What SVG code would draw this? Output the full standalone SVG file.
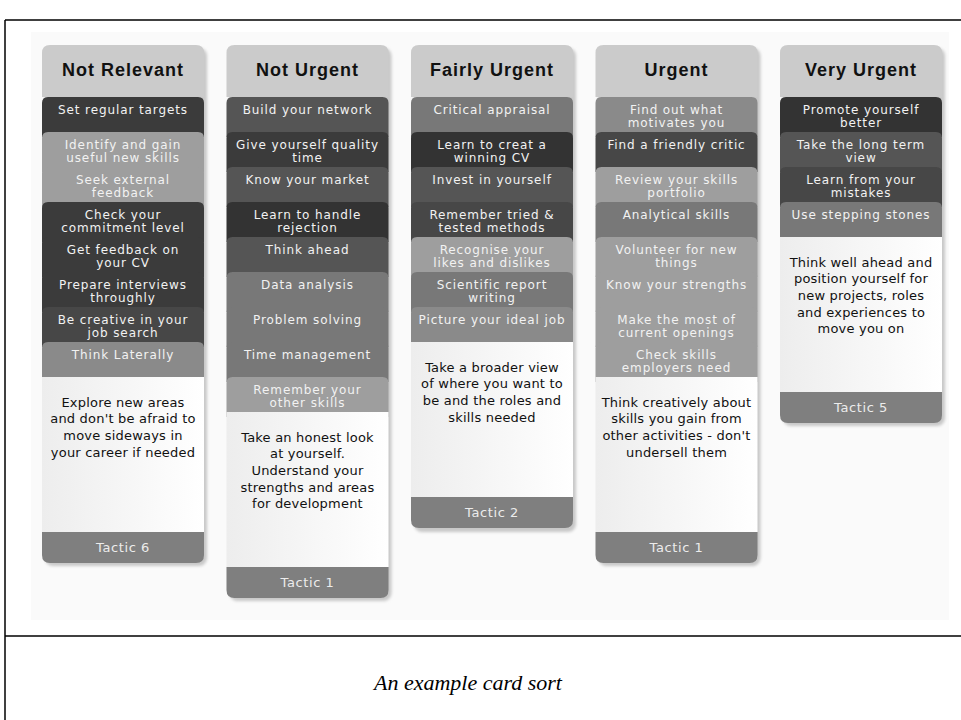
<svg xmlns="http://www.w3.org/2000/svg" xmlns:xlink="http://www.w3.org/1999/xlink" width="961" height="720" viewBox="0 0 961 720">
<style>
.hd{font-family:"Liberation Sans",Arial,sans-serif;font-weight:bold;font-size:18px;letter-spacing:1px;fill:#111;text-anchor:middle}
.ct{font-family:"DejaVu Sans",Verdana,sans-serif;font-size:12px;letter-spacing:0.9px;fill:#f2f2f2;text-anchor:middle}
.wt{font-family:"DejaVu Sans",Verdana,sans-serif;font-size:13px;letter-spacing:0.2px;fill:#111;text-anchor:middle}
.tt{font-family:"DejaVu Sans",Verdana,sans-serif;font-size:13px;letter-spacing:0.6px;fill:#ececec;text-anchor:middle}
.cap{font-family:"Liberation Serif","Times New Roman",serif;font-style:italic;font-size:22px;fill:#000;text-anchor:middle}
.c1{fill:#333}.c2{fill:#3b3b3b}.c3{fill:#474747}.c4{fill:#555}.c5{fill:#787878}.c6{fill:#8a8a8a}.c7{fill:#9e9e9e}
.hdr{fill:#cbcbcb}.tac{fill:#7f7f7f}.wh{fill:url(#wg)}
</style>
<defs>
<linearGradient id="wg" x1="0" y1="0" x2="1" y2="0">
<stop offset="0" stop-color="#ededed"/><stop offset="1" stop-color="#ffffff"/>
</linearGradient>
<filter id="sh" x="-10%" y="-10%" width="130%" height="130%">
<feGaussianBlur stdDeviation="1.5"/>
</filter>
<path id="head" d="M0,52 V8 Q0,0 8,0 H154 Q162,0 162,8 V52 Z"/>
<path id="card" d="M0,40 V6 Q0,0 6,0 H156 Q162,0 162,6 V40 Z"/>
<path id="tac" d="M0,0 H162 V23 Q162,31 154,31 H8 Q0,31 0,23 Z"/>
</defs>
<rect x="0" y="0" width="961" height="720" fill="#ffffff"/>
<rect x="31" y="32" width="918" height="588" fill="#fafafa"/>
<g id="frame" fill="none" stroke="#000" stroke-width="1.5">
<line x1="5" y1="20" x2="961" y2="20"/>
<line x1="5" y1="20" x2="5" y2="720"/>
<line x1="5" y1="636" x2="961" y2="636"/>
</g>
<text class="cap" x="468" y="690">An example card sort</text>

<!-- Column 1 -->
<g id="col-not-relevant" transform="translate(42,0)">
<rect x="3" y="48" width="162" height="518" rx="8" fill="#c8c8c8" filter="url(#sh)"/>
<use href="#head" y="45" class="hdr"/>
<text class="hd" x="81" y="76">Not Relevant</text>
<g id="c1-1"><use href="#card" y="97" class="c2"/><text class="ct" x="81" y="114">Set regular targets</text></g>
<g id="c1-2"><use href="#card" y="132" class="c7"/><text class="ct" x="81" y="149">Identify and gain</text><text class="ct" x="81" y="161.5">useful new skills</text></g>
<g id="c1-3"><use href="#card" y="167" class="c7"/><text class="ct" x="81" y="184">Seek external</text><text class="ct" x="81" y="196.5">feedback</text></g>
<g id="c1-4"><use href="#card" y="202" class="c2"/><text class="ct" x="81" y="219">Check your</text><text class="ct" x="81" y="231.5">commitment level</text></g>
<g id="c1-5"><use href="#card" y="237" class="c2"/><text class="ct" x="81" y="254">Get feedback on</text><text class="ct" x="81" y="266.5">your CV</text></g>
<g id="c1-6"><use href="#card" y="272" class="c2"/><text class="ct" x="81" y="289">Prepare interviews</text><text class="ct" x="81" y="301.5">throughly</text></g>
<g id="c1-7"><use href="#card" y="307" class="c3"/><text class="ct" x="81" y="324">Be creative in your</text><text class="ct" x="81" y="336.5">job search</text></g>
<g id="c1-8"><use href="#card" y="342" class="c6"/><text class="ct" x="81" y="359">Think Laterally</text></g>
<g id="c1-desc"><rect x="0" y="377" width="162" height="155" class="wh"/>
<text class="wt" x="81" y="406.5">Explore new areas</text>
<text class="wt" x="81" y="423.2">and don't be afraid to</text>
<text class="wt" x="81" y="439.9">move sideways in</text>
<text class="wt" x="81" y="456.6">your career if needed</text></g>
<g id="c1-tactic"><use href="#tac" y="532" class="tac"/><text class="tt" x="81" y="552">Tactic 6</text></g>
</g>

<!-- Column 2 -->
<g id="col-not-urgent" transform="translate(226.5,0)">
<rect x="3" y="48" width="162" height="553" rx="8" fill="#c8c8c8" filter="url(#sh)"/>
<use href="#head" y="45" class="hdr"/>
<text class="hd" x="81" y="76">Not Urgent</text>
<g id="c2-1"><use href="#card" y="97" class="c4"/><text class="ct" x="81" y="114">Build your network</text></g>
<g id="c2-2"><use href="#card" y="132" class="c2"/><text class="ct" x="81" y="149">Give yourself quality</text><text class="ct" x="81" y="161.5">time</text></g>
<g id="c2-3"><use href="#card" y="167" class="c4"/><text class="ct" x="81" y="184">Know your market</text></g>
<g id="c2-4"><use href="#card" y="202" class="c1"/><text class="ct" x="81" y="219">Learn to handle</text><text class="ct" x="81" y="231.5">rejection</text></g>
<g id="c2-5"><use href="#card" y="237" class="c4"/><text class="ct" x="81" y="254">Think ahead</text></g>
<g id="c2-6"><use href="#card" y="272" class="c5"/><text class="ct" x="81" y="289">Data analysis</text></g>
<g id="c2-7"><use href="#card" y="307" class="c5"/><text class="ct" x="81" y="324">Problem solving</text></g>
<g id="c2-8"><use href="#card" y="342" class="c5"/><text class="ct" x="81" y="359">Time management</text></g>
<g id="c2-9"><use href="#card" y="377" class="c7"/><text class="ct" x="81" y="394">Remember your</text><text class="ct" x="81" y="406.5">other skills</text></g>
<g id="c2-desc"><rect x="0" y="412" width="162" height="155" class="wh"/>
<text class="wt" x="81" y="441.5">Take an honest look</text>
<text class="wt" x="81" y="458.2">at yourself.</text>
<text class="wt" x="81" y="474.9">Understand your</text>
<text class="wt" x="81" y="491.6">strengths and areas</text>
<text class="wt" x="81" y="508.3">for development</text></g>
<g id="c2-tactic"><use href="#tac" y="567" class="tac"/><text class="tt" x="81" y="587">Tactic 1</text></g>
</g>

<!-- Column 3 -->
<g id="col-fairly-urgent" transform="translate(411,0)">
<rect x="3" y="48" width="162" height="484" rx="8" fill="#c8c8c8" filter="url(#sh)"/>
<use href="#head" y="45" class="hdr"/>
<text class="hd" x="81" y="76">Fairly Urgent</text>
<g id="c3-1"><use href="#card" y="97" class="c5"/><text class="ct" x="81" y="114">Critical appraisal</text></g>
<g id="c3-2"><use href="#card" y="132" class="c1"/><text class="ct" x="81" y="149">Learn to creat a</text><text class="ct" x="81" y="161.5">winning CV</text></g>
<g id="c3-3"><use href="#card" y="167" class="c4"/><text class="ct" x="81" y="184">Invest in yourself</text></g>
<g id="c3-4"><use href="#card" y="202" class="c3"/><text class="ct" x="81" y="219">Remember tried &amp;</text><text class="ct" x="81" y="231.5">tested methods</text></g>
<g id="c3-5"><use href="#card" y="237" class="c7"/><text class="ct" x="81" y="254">Recognise your</text><text class="ct" x="81" y="266.5">likes and dislikes</text></g>
<g id="c3-6"><use href="#card" y="272" class="c5"/><text class="ct" x="81" y="289">Scientific report</text><text class="ct" x="81" y="301.5">writing</text></g>
<g id="c3-7"><use href="#card" y="307" class="c6"/><text class="ct" x="81" y="324">Picture your ideal job</text></g>
<g id="c3-desc"><rect x="0" y="342" width="162" height="155" class="wh"/>
<text class="wt" x="81" y="371.5">Take a broader view</text>
<text class="wt" x="81" y="388.2">of where you want to</text>
<text class="wt" x="81" y="404.9">be and the roles and</text>
<text class="wt" x="81" y="421.6">skills needed</text></g>
<g id="c3-tactic"><use href="#tac" y="497" class="tac"/><text class="tt" x="81" y="517">Tactic 2</text></g>
</g>

<!-- Column 4 -->
<g id="col-urgent" transform="translate(595.5,0)">
<rect x="3" y="48" width="162" height="518" rx="8" fill="#c8c8c8" filter="url(#sh)"/>
<use href="#head" y="45" class="hdr"/>
<text class="hd" x="81" y="76">Urgent</text>
<g id="c4-1"><use href="#card" y="97" class="c6"/><text class="ct" x="81" y="114">Find out what</text><text class="ct" x="81" y="126.5">motivates you</text></g>
<g id="c4-2"><use href="#card" y="132" class="c3"/><text class="ct" x="81" y="149">Find a friendly critic</text></g>
<g id="c4-3"><use href="#card" y="167" class="c7"/><text class="ct" x="81" y="184">Review your skills</text><text class="ct" x="81" y="196.5">portfolio</text></g>
<g id="c4-4"><use href="#card" y="202" class="c5"/><text class="ct" x="81" y="219">Analytical skills</text></g>
<g id="c4-5"><use href="#card" y="237" class="c7"/><text class="ct" x="81" y="254">Volunteer for new</text><text class="ct" x="81" y="266.5">things</text></g>
<g id="c4-6"><use href="#card" y="272" class="c7"/><text class="ct" x="81" y="289">Know your strengths</text></g>
<g id="c4-7"><use href="#card" y="307" class="c7"/><text class="ct" x="81" y="324">Make the most of</text><text class="ct" x="81" y="336.5">current openings</text></g>
<g id="c4-8"><use href="#card" y="342" class="c7"/><text class="ct" x="81" y="359">Check skills</text><text class="ct" x="81" y="371.5">employers need</text></g>
<g id="c4-desc"><rect x="0" y="377" width="162" height="155" class="wh"/>
<text class="wt" x="81" y="406.5">Think creatively about</text>
<text class="wt" x="81" y="423.2">skills you gain from</text>
<text class="wt" x="81" y="439.9">other activities - don't</text>
<text class="wt" x="81" y="456.6">undersell them</text></g>
<g id="c4-tactic"><use href="#tac" y="532" class="tac"/><text class="tt" x="81" y="552">Tactic 1</text></g>
</g>

<!-- Column 5 -->
<g id="col-very-urgent" transform="translate(780,0)">
<rect x="3" y="48" width="162" height="378" rx="8" fill="#c8c8c8" filter="url(#sh)"/>
<use href="#head" y="45" class="hdr"/>
<text class="hd" x="81" y="76">Very Urgent</text>
<g id="c5-1"><use href="#card" y="97" class="c1"/><text class="ct" x="81" y="114">Promote yourself</text><text class="ct" x="81" y="126.5">better</text></g>
<g id="c5-2"><use href="#card" y="132" class="c4"/><text class="ct" x="81" y="149">Take the long term</text><text class="ct" x="81" y="161.5">view</text></g>
<g id="c5-3"><use href="#card" y="167" class="c3"/><text class="ct" x="81" y="184">Learn from your</text><text class="ct" x="81" y="196.5">mistakes</text></g>
<g id="c5-4"><use href="#card" y="202" class="c5"/><text class="ct" x="81" y="219">Use stepping stones</text></g>
<g id="c5-desc"><rect x="0" y="237" width="162" height="155" class="wh"/>
<text class="wt" x="81" y="266.5">Think well ahead and</text>
<text class="wt" x="81" y="283.2">position yourself for</text>
<text class="wt" x="81" y="299.9">new projects, roles</text>
<text class="wt" x="81" y="316.6">and experiences to</text>
<text class="wt" x="81" y="333.3">move you on</text></g>
<g id="c5-tactic"><use href="#tac" y="392" class="tac"/><text class="tt" x="81" y="412">Tactic 5</text></g>
</g>
</svg>
